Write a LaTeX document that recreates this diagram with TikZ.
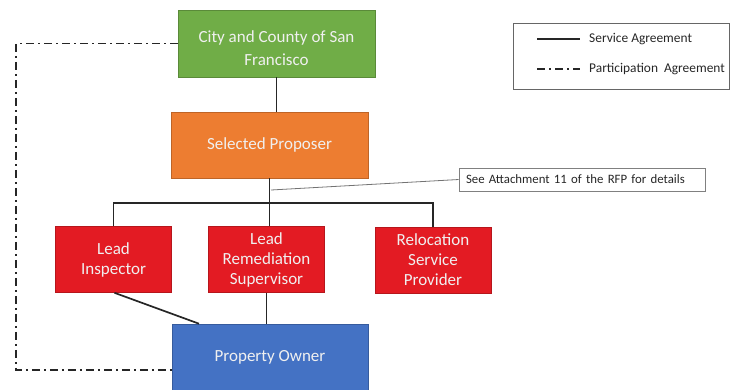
\documentclass[tikz,border=0pt]{standalone}
\usepackage{fontspec}
\setmainfont{Carlito}
\usetikzlibrary{positioning}

\definecolor{sfgreen}{HTML}{70AD47}
\definecolor{sforange}{HTML}{ED7D31}
\definecolor{sfred}{HTML}{E31B23}
\definecolor{sfblue}{HTML}{4472C4}

\tikzset{
  box/.style={draw=#1!80!black, fill=#1, line width=0.6pt, text=white!94!black, align=center,
    inner sep=0pt, font=\fontsize{17}{20}\selectfont},
  link/.style={draw=black!85, line width=1.7pt},
  partline/.style={draw=black!85, line width=1.8pt, dash pattern=on 8pt off 4pt on 2pt off 4pt},
  small/.style={font=\fontsize{13.4}{15}\selectfont, text=black!85}
}

\begin{document}
\begin{tikzpicture}[x=1pt, y=-1pt]

\def \bw {197}   % wide boxes
\def \sw {116}   % small boxes
\def \bh {66}

\useasboundingbox (0,0) rectangle (730,389);

\node[box=sfgreen, minimum width=\bw, minimum height=67,
  font=\fontsize{17}{23}\selectfont] (city) at (276.5,43.5)
  {\rule{0pt}{22pt}City and County of San\\Francisco};
\node[box=sforange, minimum width=\bw, minimum height=\bh] (proposer) at (269.5,145)
  {Selected Proposer};

\node[box=sfred, minimum width=\sw, minimum height=\bh] (inspector) at (113.5,259.5)
  {Lead\\Inspector};
\node[box=sfred, minimum width=\sw, minimum height=\bh] (supervisor) at (266.5,259.5)
  {Lead\\Remediation\\Supervisor};
\node[box=sfred, minimum width=\sw, minimum height=\bh] (relocation) at (433,260)
  {Relocation\\Service\\Provider};

\node[box=sfblue, minimum width=196, minimum height=\bh] (owner) at (270,357)
  {Property Owner};

% service agreements
\coordinate (bus) at (270,203);
\draw[link] (city.south) -- (city.south |- proposer.north);
\draw[link] (proposer.south) -- (proposer.south |- supervisor.north);
\draw[link] (inspector.north) |- (bus) -| (relocation.north);
\draw[link] ([xshift=1pt]inspector.south) -- ([xshift=-71pt]owner.north);
\draw[link] (supervisor.south) -- (supervisor.south |- owner.north);

% participation agreement
\coordinate (pa) at (16,370);
\draw[partline] (city.west) -| (pa) -- (pa -| owner.west);

% note
\node[draw=black!50, line width=0.6pt, small, font=\fontsize{12.8}{14}\selectfont,
  text width=232, align=left, inner xsep=7pt, inner ysep=0pt, minimum height=23]
  (note) at (582,179.5) {See Attachment 11 of the RFP for details};
\coordinate (callpt) at (271,190);
\draw[black!55, line width=0.8pt] (callpt) -- (note.west);

% legend
\node[draw=black!60, line width=0.8pt, minimum width=216, minimum height=66] (legend) at (621,56) {};
\coordinate (l1) at (537,39);
\coordinate (l2) at (537,69);
\draw[link] (l1) -- ++(43,0) node[small, anchor=west, xshift=5pt] (svc) {Service Agreement};
\draw[partline] (l2) -- ++(43,0) node[small, anchor=west, xshift=5pt] (part) {Participation\ \ Agreement};

\end{tikzpicture}
\end{document}
